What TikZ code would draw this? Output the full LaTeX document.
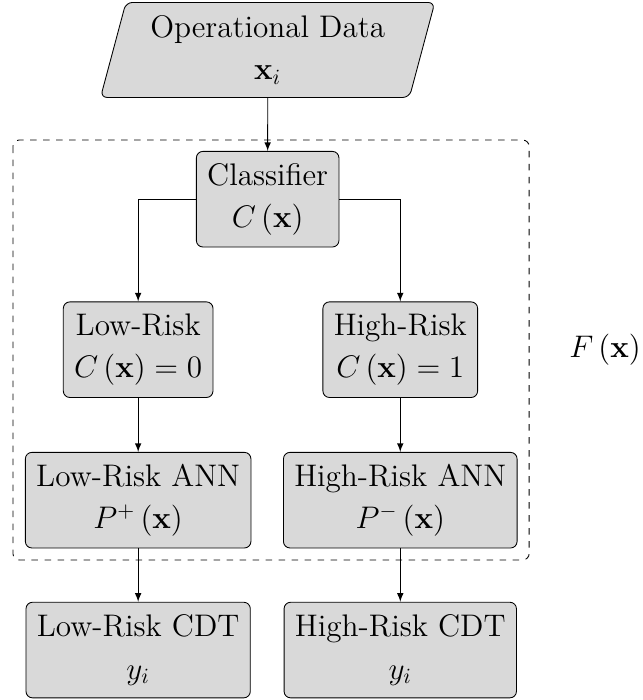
\documentclass[tikz,border=0pt]{standalone}
\usepackage{amsmath}
\usepackage{amssymb}
\usepackage{tikz}
\usetikzlibrary{shapes.geometric, positioning, arrows.meta, calc}
\tikzset{
  block/.style={rectangle, rounded corners=3pt, minimum height=1.55cm, inner sep=5pt, align=center, draw=black, fill=black!15, font=\Large},
  datain/.style={trapezium, trapezium left angle=75, trapezium right angle=105, rounded corners=3pt, minimum width=5.15cm, minimum height=1.54cm, align=center, draw=black, fill=black!15, font=\Large},
  arrow/.style={->,>=latex}
}

\begin{document}
\begin{tikzpicture}

    \useasboundingbox (0,0) rectangle (10.41,-11.35);

    % 1. Entrada de datos
    \node[datain] (data) at (4.34,-0.81) {Operational Data\\[1.5pt]$\mathbf{x}_i$};

    % 2. Bloque del modelo (recuadro punteado)
    \draw[dashed, rounded corners=3pt] (0.21,-2.27) rectangle (8.58,-9.08);
    \node[font=\Large] (model) at (9.81,-5.67) {$F\left(\mathbf{x}\right)$};

    % Clasificador y ramas
    \node[block] (classifier) at (4.34,-3.23) {Classifier\\[1.5pt]$C\left(\mathbf{x}\right)$};
    \node[block] (lowrisk) at (2.24,-5.67) {Low-Risk\\[1.5pt]$C\left(\mathbf{x}\right)=0$};
    \node[block] (highrisk) at (6.49,-5.67) {High-Risk\\[1.5pt]$C\left(\mathbf{x}\right)=1$};

    % Redes neuronales
    \node[block] (lowann) at (2.24,-8.11) {Low-Risk ANN\\[1.5pt]$P^{+}\left(\mathbf{x}\right)$};
    \node[block] (highann) at (6.49,-8.11) {High-Risk ANN\\[1.5pt]$P^{-}\left(\mathbf{x}\right)$};

    % 3. Salidas
    \node[block] (lowcdt) at (2.24,-10.54) {Low-Risk CDT\\[1.5pt]$y_i$};
    \node[block] (highcdt) at (6.49,-10.54) {High-Risk CDT\\[1.5pt]$y_i$};

    % Conexiones
    \draw[arrow] (data.south) -- (classifier.north);
    \draw[arrow] (classifier.west) -| (lowrisk.north);
    \draw[arrow] (classifier.east) -| (highrisk.north);
    \draw[arrow] (lowrisk) -- (lowann);
    \draw[arrow] (highrisk) -- (highann);
    \draw[arrow] (lowann) -- (lowcdt);
    \draw[arrow] (highann) -- (highcdt);

\end{tikzpicture}
\end{document}
